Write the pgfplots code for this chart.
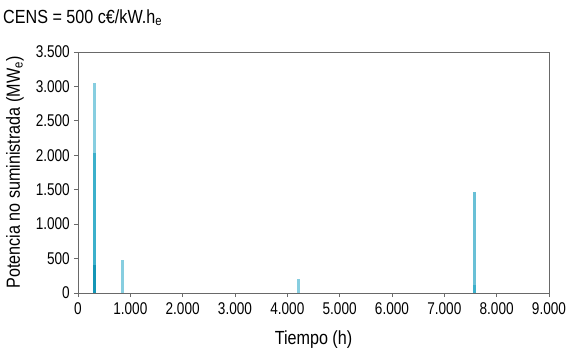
\documentclass[border=0pt]{standalone}
\usepackage{fontspec}
\setmainfont{Liberation Sans}[FakeStretch=0.85]
\newfontfamily\tickfont{Liberation Sans}[FakeStretch=0.8]
\usepackage{pgfplots}
\pgfplotsset{compat=1.18}
\definecolor{axgray}{RGB}{105,105,105}
\definecolor{spkA}{RGB}{135,206,224}
\definecolor{spkD}{RGB}{105,192,214}
\definecolor{spkB}{RGB}{60,176,203}
\definecolor{spkC}{RGB}{20,150,182}
\begin{document}
\begin{tikzpicture}
\useasboundingbox (-78pt,-63pt) rectangle (491pt,293pt);
\begin{axis}[
  at={(0pt,0pt)}, anchor=south west,
  scale only axis,
  width=471pt, height=241pt,
  xmin=0, xmax=9000, ymin=0, ymax=3500,
  xtick={0,1000,...,9000},
  ytick={0,500,...,3500},
  /pgf/number format/.cd, 1000 sep={.}, assume math mode=true,
  /pgfplots/.cd,
  tick align=outside,
  tick pos=left,
  major tick length=4pt,
  axis line style={axgray, line width=0.8pt},
  tick style={axgray, line width=0.8pt},
  every tick label/.append style={font=\tickfont\fontsize{17}{19}\selectfont, inner sep=0pt},
  xticklabel style={yshift=-5pt},
  yticklabel style={xshift=-4pt},
  xlabel={Tiempo (h)},
  ylabel={Potencia no suministrada (MW\textsubscript{e})},
  every axis x label/.style={at={(rel axis cs:0.5,0)}, anchor=base, yshift=-51pt, font=\fontsize{19}{21}\selectfont},
  every axis y label/.style={at={(rel axis cs:0,0.5)}, anchor=base, rotate=90, yshift=58pt, font=\fontsize{19}{21}\selectfont},
  title={CENS = 500 c€/kW.h\textsubscript{e}},
  every axis title/.style={at={(rel axis cs:0,1)}, anchor=base west, xshift=-75pt, yshift=28.7pt, inner sep=0pt, font=\fontsize{19}{21}\selectfont},
]
\addplot[ycomb, spkA, line width=3pt] coordinates {(313,3052) (850,475) (4215,199)};
\addplot[ycomb, spkD, line width=3pt] coordinates {(7567,1468)};
\addplot[ycomb, spkB, line width=3pt] coordinates {(313,2026) (7572,122)};
\addplot[ycomb, spkC, line width=3pt] coordinates {(308,403)};
\end{axis}
\end{tikzpicture}
\end{document}
